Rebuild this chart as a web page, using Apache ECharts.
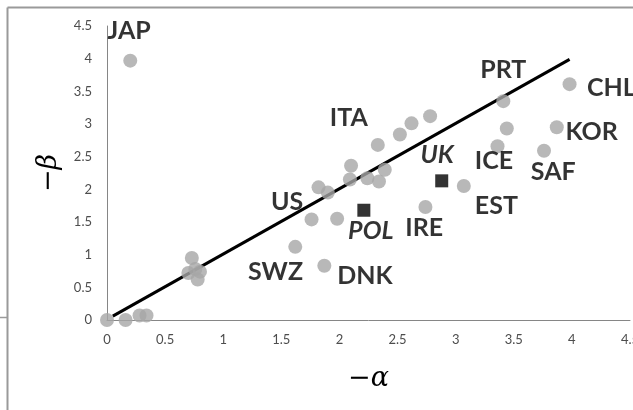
<!DOCTYPE html>
<html>
<head>
<meta charset="utf-8">
<style>
  html, body { margin: 0; padding: 0; background: #ffffff; }
  #chart { width: 633px; height: 410px; }
</style>
<script src="https://cdn.jsdelivr.net/npm/echarts@6/dist/echarts.min.js"></script>
</head>
<body>
<div id="chart"></div>
<script>
// Country estimates: -alpha (x) and -beta (y)
const countryAlpha = [0.00, 0.16, 0.28, 0.34, 0.73, 0.70, 0.76, 0.80, 0.78, 0.20,
                      1.62, 1.87, 1.76, 1.98, 1.82, 1.90, 2.10, 2.09, 2.24, 2.34,
                      2.39, 2.33, 2.52, 2.62, 2.78, 2.74, 3.07, 3.41, 3.98, 3.44,
                      3.36, 3.87, 3.76];
const countryBeta  = [0.00, 0.00, 0.07, 0.07, 0.95, 0.72, 0.78, 0.74, 0.62, 3.97,
                      1.12, 0.83, 1.54, 1.55, 2.03, 1.95, 2.36, 2.15, 2.17, 2.12,
                      2.30, 2.68, 2.84, 3.01, 3.12, 1.73, 2.05, 3.35, 3.61, 2.93,
                      2.66, 2.95, 2.59];

// Highlighted countries (black squares)
const highlightNames = ['POL', 'UK'];
const highlightAlpha = [2.21, 2.88];
const highlightBeta  = [1.68, 2.13];

// Fitted line end points
const fitAlpha = [0.05, 3.98];
const fitBeta  = [0.06, 3.99];

// Country name annotations, anchored in data units
const labelNames = ['JAP', 'PRT', 'CHL', 'ITA', 'KOR', 'UK', 'ICE', 'SAF', 'US', 'EST', 'POL', 'IRE', 'SWZ', 'DNK'];
const labelAlpha = [0.19, 3.41, 4.34, 2.08, 4.17, 2.84, 3.33, 3.84, 1.55, 3.35, 2.27, 2.73, 1.45, 2.22];
const labelBeta  = [4.43, 3.82, 3.55, 3.10, 2.88, 2.53, 2.43, 2.27, 1.81, 1.74, 1.36, 1.41, 0.74, 0.67];
const italicLabels = ['UK', 'POL'];

// Axis ranges
const axisMin = 0, axisMax = 4.5, axisStep = 0.5;

const pair = (xs, ys) => xs.map((x, i) => [x, ys[i]]);

const chart = echarts.init(document.getElementById('chart'));

const labelFont = 'Lato, "Open Sans", sans-serif';

chart.setOption({
  animation: false,
  backgroundColor: '#ffffff',
  grid: { left: 107, right: 3, top: 26, bottom: 90, containLabel: false, outerBoundsMode: 'none' },
  xAxis: {
    type: 'value', min: axisMin, max: axisMax, interval: axisStep,
    splitLine: { show: false },
    axisTick: { show: false },
    axisLine: { lineStyle: { color: '#868686', width: 1 } },
    axisLabel: { color: '#4d4d4d', fontSize: 13, fontFamily: labelFont, margin: 13,
                 formatter: v => String(v) },
    name: '\u2212\u03b1', nameLocation: 'middle', nameGap: 45,
    nameTextStyle: { fontFamily: '"DejaVu Serif", serif', fontStyle: 'italic', fontSize: 27, color: '#000' }
  },
  yAxis: {
    type: 'value', min: axisMin, max: axisMax, interval: axisStep,
    splitLine: { show: false },
    axisTick: { show: false },
    axisLine: { lineStyle: { color: '#868686', width: 1 } },
    axisLabel: { color: '#4d4d4d', fontSize: 13, fontFamily: labelFont, margin: 15,
                 formatter: v => String(v) },
    name: '\u2212\u03b2', nameLocation: 'middle', nameGap: 33, nameRotate: 90,
    nameTextStyle: { fontFamily: '"DejaVu Serif", serif', fontStyle: 'italic', fontSize: 27, color: '#000' }
  },
  graphic: [
    { type: 'line', silent: true, shape: { x1: 7.5, y1: 7.5, x2: 633, y2: 7.5 },
      style: { stroke: '#9a9a9a', lineWidth: 2 } },
    { type: 'line', silent: true, shape: { x1: 7.5, y1: 7.5, x2: 7.5, y2: 410 },
      style: { stroke: '#9a9a9a', lineWidth: 2 } },
    { type: 'line', silent: true, shape: { x1: 0, y1: 317.5, x2: 7.5, y2: 317.5 },
      style: { stroke: '#9a9a9a', lineWidth: 1.5 } }
  ],
  series: [
    {
      type: 'line',
      data: pair(fitAlpha, fitBeta),
      showSymbol: false,
      lineStyle: { color: '#000000', width: 3 },
      z: 2
    },
    {
      type: 'scatter',
      data: pair(countryAlpha, countryBeta),
      symbol: 'circle', symbolSize: 14,
      itemStyle: { color: '#a6a6a6' },
      clip: false,
      z: 3
    },
    {
      type: 'scatter',
      data: highlightNames.map((n, i) => ({ name: n, value: [highlightAlpha[i], highlightBeta[i]] })),
      symbol: 'rect', symbolSize: 13,
      itemStyle: { color: '#000000' },
      z: 3
    },
    {
      type: 'scatter',
      data: labelNames.map((n, i) => ({
        name: n,
        value: [labelAlpha[i], labelBeta[i]],
        label: { fontStyle: italicLabels.includes(n) ? 'italic' : 'normal' }
      })),
      symbolSize: 0,
      clip: false,
      silent: true,
      label: {
        show: true, position: 'inside', formatter: '{b}',
        color: '#000000', fontWeight: 'bold', fontSize: 25, fontFamily: labelFont
      },
      z: 4
    }
  ]
});
</script>
</body>
</html>
